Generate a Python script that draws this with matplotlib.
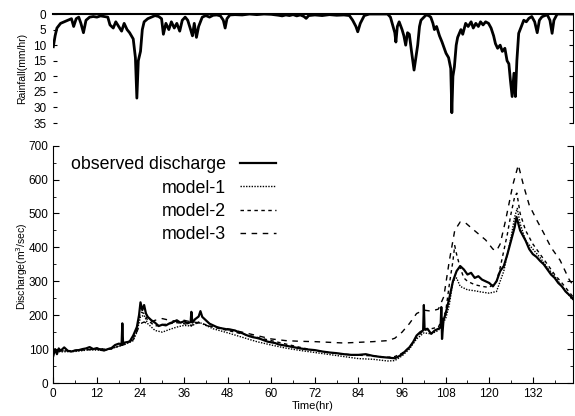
import matplotlib
matplotlib.use("Agg")
import matplotlib.pyplot as plt
from matplotlib.ticker import MultipleLocator

plt.rcParams['font.family'] = ['Liberation Sans', 'DejaVu Sans']

# rainfall (mm/hr)
rain_t = [0, 0.5, 1, 2, 3, 4, 5, 5.6, 6.3, 7, 7.6, 8.3, 9, 10, 11, 12, 13, 14, 15, 15.6,
          16.5, 17.2, 18, 18.8, 19.5, 20.3, 21, 22, 22.6, 23, 23.4, 24, 24.5, 25, 26, 27, 28,
          29, 29.8, 30.3, 31, 31.8, 32.5, 33.3, 34, 34.8, 35.5, 36.3, 37, 37.8, 38.3, 38.8,
          39.4, 40, 41, 42, 43, 44, 45, 46, 46.8, 47.3, 47.8, 48.6, 50, 52, 54, 56, 58, 60,
          62, 63, 64, 65, 66, 67, 68, 69, 69.6, 70.3, 72, 74, 76, 78, 80, 81.5, 82.4, 83.3,
          83.8, 84.5, 85.6, 87, 92, 92.8, 93.4, 94, 94.3, 94.7, 95.2, 96, 96.5, 97, 97.5, 98,
          98.6, 99.3, 99.8, 100.3, 100.8, 101.2, 102, 102.6, 103.3, 103.9, 104.5, 104.9, 105.5,
          106.3, 107, 107.6, 108.1, 108.8, 109.4, 109.7, 110, 110.4, 110.9, 111.3, 112.2,
          112.7, 113.5, 114.2, 115, 115.6, 116.3, 117, 117.6, 118.3, 119, 119.8, 120.5, 121.2,
          121.7, 122.3, 123, 123.6, 124.3, 124.9, 125.4, 125.8, 126.3, 126.8, 127.2, 127.6,
          128.1, 129, 129.5, 130.2, 130.9, 131.7, 132.5, 133.2, 133.8, 134.5, 135.3, 136,
          136.7, 137.3, 137.8, 138.7, 143]
rain = [10.5, 7, 4.5, 3, 2.5, 2, 1.5, 4, 1.5, 1, 3, 6, 2, 1, 0.8, 1, 0.6, 0.8, 1, 3.5,
        4.5, 2.5, 4, 5.5, 3, 5, 6, 8, 14, 27, 15, 12, 5, 2.5, 1.5, 1, 0.5,
        0.8, 1.5, 6.5, 3, 5, 2.5, 4.5, 3, 5.5, 2, 1, 2, 5, 7, 3,
        7.5, 4, 1, 0.5, 1, 0.4, 0.3, 0.6, 2, 4.5, 1.5, 0.3, 0.2, 0.3, 0, 0.2, 0, 0.1,
        0.4, 0.6, 0.3, 0.5, 0.2, 0.6, 0.3, 0.8, 1.4, 0.5, 0.3, 0.5, 0.2, 0.4, 0.3, 0.5, 2, 4,
        5.7, 3, 0.5, 0, 0, 1, 3.5, 6, 9, 4, 2.5, 5, 7, 10, 6, 6.5,
        12, 18, 14, 10, 4, 2, 1, 0.3, 0.5, 1, 3, 5, 4,
        7, 9, 11, 12.6, 14, 17.5, 31.7, 20, 17, 10, 7.5, 5,
        6.5, 3, 4, 2.5, 4.5, 3, 4, 2.5, 3.5, 2.5, 3, 4.5, 7,
        9.5, 11, 10, 12, 11, 15, 16, 21, 26.5, 19, 26.5, 15,
        6.2, 3.5, 2, 2.5, 1.4, 0.8, 2.5, 6, 2, 0.9, 0.5, 0.3,
        2, 6.2, 2, 0, 0]

# observed discharge (m3/sec)
obs_t = [0, 0.5, 1, 1.5, 2, 3, 4, 5, 6, 7, 8, 9, 10, 11, 12, 13, 14, 15, 16, 17, 18, 18.8,
         19, 19.2, 20, 21, 22, 23, 23.6, 24, 24.5, 25, 25.5, 26, 27, 28, 29, 30, 31, 32, 33,
         34, 35, 36, 37, 37.8, 38, 38.3, 39, 40, 40.5, 41, 42, 43, 44, 45, 46, 47, 48, 49,
         50, 51, 52, 53, 54, 55, 56, 57, 58, 59, 60, 61, 62, 63, 64, 65, 66, 67, 68, 70, 72,
         74, 76, 78, 80, 82, 84, 86, 88, 90, 92, 94, 95, 96, 97, 98, 99, 100, 101, 101.8,
         102, 102.2, 103, 104, 105, 106, 106.6, 106.8, 107, 107.4, 108, 109, 110, 111, 112,
         113, 114, 115, 116, 117, 118, 119, 120, 121, 122, 123, 124, 125, 126, 127, 127.5,
         128, 128.5, 129, 130, 131, 132, 133, 134, 135, 136, 137, 138, 139, 140, 141, 142, 143]
obs = [80, 100, 85, 102, 95, 105, 95, 93, 96, 97, 100, 102, 106, 100, 103, 98, 96, 100, 103,
       112, 116, 115, 176, 118, 120, 122, 140, 165, 200, 238, 215, 230, 205, 195, 185, 178,
       168, 172, 170, 176, 180, 185, 178, 182, 176, 180, 210, 178, 188, 196, 212, 195, 185,
       175, 170, 165, 162, 160, 158, 157, 155, 150, 147, 142, 138, 135, 133, 130, 126, 122,
       120, 118, 114, 112, 110, 108, 106, 104, 102, 99, 97, 93, 90, 88, 85, 83, 83, 85, 80,
       77, 75, 73, 78, 85, 95, 105, 120, 140, 150, 155, 230, 158, 160, 145, 155, 160, 165,
       224, 130, 185, 205, 250, 300, 330, 345, 335, 320, 325, 310, 315, 305, 300, 295, 285,
       300, 330, 345, 380, 420, 460, 490, 470, 450, 440, 420, 395, 380, 372, 360, 350, 335,
       320, 310, 295, 285, 270, 260, 250]

# model-1
m1_t = [0, 2, 6, 10, 14, 18, 20, 22, 23, 24, 25, 26, 28, 30, 32, 34, 36, 38, 40, 42, 44, 48,
        52, 56, 60, 64, 68, 72, 76, 80, 84, 88, 92, 94, 96, 98, 100, 102, 104, 106, 108, 109,
        110, 111, 112, 114, 116, 118, 120, 122, 123, 124, 125, 126, 127, 127.7, 128.5, 130,
        132, 134, 136, 138, 140, 143]
m1 = [95, 92, 93, 98, 96, 108, 115, 125, 150, 195, 200, 175, 155, 150, 158, 165, 170, 168,
      180, 170, 160, 148, 135, 122, 112, 103, 96, 90, 84, 78, 72, 70, 65, 66, 80, 100, 130,
      148, 145, 155, 190, 230, 300, 310, 285, 275, 272, 268, 265, 270, 300, 330, 380, 430,
      490, 515, 470, 420, 395, 370, 340, 315, 285, 245]

# model-2
m2_t = [0, 4, 8, 12, 16, 20, 22, 23, 24, 25, 26, 28, 30, 32, 34, 36, 38, 40, 42, 44, 48, 52,
        56, 60, 64, 68, 72, 76, 80, 84, 88, 92, 94, 96, 98, 100, 102, 104, 106, 108, 109, 110,
        110.5, 111, 112, 113, 114, 116, 118, 120, 122, 123, 124, 125, 126, 127, 127.6, 128.5,
        130, 132, 134, 136, 138, 140, 143]
m2 = [95, 95, 97, 100, 100, 118, 130, 160, 210, 205, 185, 168, 172, 175, 178, 175, 170, 178,
      172, 165, 155, 145, 135, 125, 115, 105, 96, 90, 85, 82, 80, 76, 78, 88, 105, 135, 155,
      160, 165, 210, 290, 360, 405, 380, 340, 310, 300, 290, 285, 282, 300, 340, 390, 440,
      500, 550, 560, 500, 450, 410, 380, 350, 320, 295, 255]

# model-3
m3_t = [0, 4, 8, 12, 16, 20, 22, 24, 25, 26, 28, 30, 32, 34, 36, 38, 40, 42, 44, 48, 52, 56,
        60, 64, 68, 72, 76, 80, 84, 88, 92, 94, 96, 98, 100, 102, 104, 106, 107.5, 109, 110.5,
        112, 113.5, 115, 117, 119, 121, 122, 123, 124.5, 126.5, 128, 129.5, 131, 133, 135,
        137, 139.5, 142, 143]
m3 = [95, 95, 98, 100, 102, 115, 128, 175, 180, 175, 185, 190, 185, 182, 185, 180, 178, 170,
      165, 160, 150, 140, 130, 125, 123, 122, 120, 118, 120, 122, 125, 132, 150, 175, 205,
      215, 212, 218, 255, 360, 450, 475, 472, 458, 440, 422, 395, 390, 410, 480, 585, 643,
      580, 525, 482, 442, 400, 362, 305, 290]

x_ticks = [0, 12, 24, 36, 48, 60, 72, 84, 96, 108, 120, 132]

fig = plt.figure(figsize=(5.75, 4.16), dpi=100)
ax1 = fig.add_axes([0.0927, 0.7043, 0.9035, 0.262])
ax2 = fig.add_axes([0.0927, 0.0793, 0.9035, 0.5705])

# rainfall panel
ax1.plot(rain_t, rain, color='black', lw=2.0)
ax1.set_xlim(0, 143)
ax1.set_ylim(35, 0)
ax1.yaxis.set_major_locator(MultipleLocator(5))
ax1.set_xticks([])
ax1.spines['bottom'].set_visible(False)
ax1.spines['left'].set_visible(False)
ax1.spines['top'].set_linewidth(1.5)
ax1.tick_params(axis='y', direction='in', length=3, right=True, labelsize=8.5, pad=5)
fig.text(0.038, 0.835, 'Rainfall(mm/hr)', rotation=90, ha='center', va='center', fontsize=7.5)

# discharge panel
ax2.plot(obs_t, obs, color='black', lw=1.6, label='observed discharge')
ax2.plot(m1_t, m1, color='black', lw=1.0, ls=(0, (1, 1)), label='model-1')
ax2.plot(m2_t, m2, color='black', lw=1.0, ls=(0, (2.5, 2.5)), label='model-2')
ax2.plot(m3_t, m3, color='black', lw=1.0, ls=(0, (4, 4)), label='model-3')
ax2.set_xlim(0, 143)
ax2.set_ylim(0, 700)
ax2.set_xticks(x_ticks)
ax2.xaxis.set_minor_locator(MultipleLocator(6))
ax2.yaxis.set_major_locator(MultipleLocator(100))
ax2.yaxis.set_minor_locator(MultipleLocator(50))
ax2.spines['top'].set_visible(False)
ax2.tick_params(which='both', direction='in', right=True, labelsize=8.5)
ax2.tick_params(which='major', length=4)
ax2.tick_params(which='minor', length=2)
ax2.set_xlabel('Time(hr)', fontsize=8, labelpad=1)
fig.text(0.038, 0.36, r'Discharge(m$^3$/sec)', rotation=90, ha='center', va='center',
         fontsize=7.5)

ax2.legend(loc='upper left', bbox_to_anchor=(0.02, 0.985), frameon=False, fontsize=12.8,
           markerfirst=False, handlelength=2.0, handletextpad=0.8, labelspacing=0.35,
           borderaxespad=0)

fig.savefig('out.png', dpi=100)
